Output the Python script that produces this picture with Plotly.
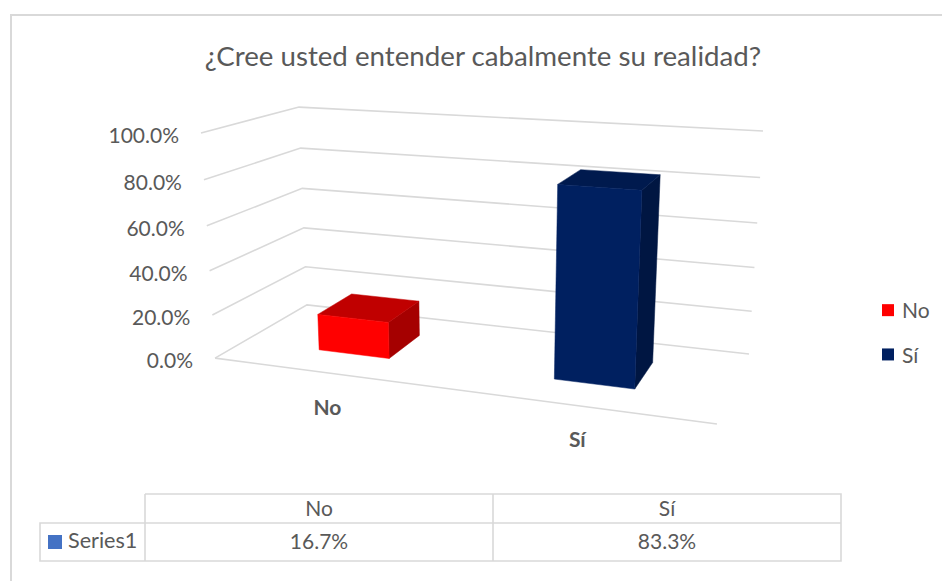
import numpy as np
import plotly.graph_objects as go

# ---- data ----
categories = ["No", "Sí"]
values = [16.7, 83.3]
series_name = "Series1"
value_labels = ["16.7%", "83.3%"]
axis_ticks = [0, 20, 40, 60, 80, 100]
axis_tick_labels = ["0.0%", "20.0%", "40.0%", "60.0%", "80.0%", "100.0%"]
title_text = "¿Cree usted entender cabalmente su realidad?"

# ---- styles ----
GRID = "#D9D9D9"
TEXT = "#595959"
FONT = "Lato"
LABEL_SIZE = 21
front_colors = ["#FF0000", "#002060"]
top_colors = ["#C00000", "#001A4E"]
side_colors = ["#A50000", "#001642"]
W, H = 942, 581
BAR_WIDTH, BAR_DEPTH = 0.156, 0.40

# ---- perspective camera: (across, depth, value share) -> picture position ----
cal_model = [(0, 0, 0), (1, 0, 0), (1, 1, 0), (0, 1, 0), (0, 0, 1), (0, 1, 1), (1, 1, 1)]
cal_image = [(215, 358), (717, 424), (749, 354), (307, 305), (201, 133), (299, 107), (763, 131)]
A, B = [], []
for (u, v, w), (px, py) in zip(cal_model, cal_image):
    A.append([u, v, w, 1, 0, 0, 0, 0, -px * u, -px * v, -px * w]); B.append(px)
    A.append([0, 0, 0, 0, u, v, w, 1, -py * u, -py * v, -py * w]); B.append(py)
P = np.append(np.linalg.lstsq(np.array(A, float), np.array(B, float), rcond=None)[0], 1).reshape(3, 4)


def project(u, v, value):
    q = P @ np.array([u, v, value / 100, 1.0])
    return q[0] / q[2], q[1] / q[2]


def poly_trace(corners, color, group):
    pts = [project(*c) for c in corners]
    pts.append(pts[0])
    return go.Scatter(x=[p[0] for p in pts], y=[p[1] for p in pts], mode="lines", fill="toself",
                      fillcolor=color, line=dict(color=color, width=0.5), hoverinfo="skip",
                      showlegend=False, legendgroup=group)


def line_trace(xs, ys, color=GRID, width=1.6):
    return go.Scatter(x=xs, y=ys, mode="lines", line=dict(color=color, width=width),
                      hoverinfo="skip", showlegend=False)


fig = go.Figure()

# chart frame (runs past the right and bottom edge of the picture)
fig.add_trace(line_trace([960, 11, 11], [15, 15, 600], width=2))

# walls and floor gridlines
for t in axis_ticks:
    pts = [project(0, 0, t), project(0, 1, t), project(1, 1, t)]
    fig.add_trace(line_trace([p[0] for p in pts], [p[1] for p in pts]))
pts = [project(0, 0, 0), project(1, 0, 0)]
fig.add_trace(line_trace([p[0] for p in pts], [p[1] for p in pts]))

# bars
for i, (cat, val) in enumerate(zip(categories, values)):
    uc = (i + 0.5) / len(categories)
    u0, u1 = uc - BAR_WIDTH / 2, uc + BAR_WIDTH / 2
    v0, v1 = 0.5 - BAR_DEPTH / 2, 0.5 + BAR_DEPTH / 2
    fig.add_trace(poly_trace([(u1, v0, 0), (u1, v1, 0), (u1, v1, val), (u1, v0, val)], side_colors[i], cat))
    fig.add_trace(poly_trace([(u0, v0, val), (u1, v0, val), (u1, v1, val), (u0, v1, val)], top_colors[i], cat))
    fig.add_trace(poly_trace([(u0, v0, 0), (u1, v0, 0), (u1, v0, val), (u0, v0, val)], front_colors[i], cat))
    # legend entry
    fig.add_trace(go.Scatter(x=[None], y=[None], mode="markers", name=cat, legendgroup=cat,
                             marker=dict(symbol="square", size=14, color=front_colors[i])))

# value axis labels
tick_pts = [project(0, 0, t) for t in axis_ticks]
fig.add_trace(go.Scatter(x=[p[0] - 22 for p in tick_pts], y=[p[1] + 4.5 for p in tick_pts],
                         mode="text", text=axis_tick_labels, textposition="middle left",
                         textfont=dict(family=FONT, size=LABEL_SIZE, color=TEXT), hoverinfo="skip", showlegend=False))

# category labels
cat_pts = [project((i + 0.5) / len(categories), 0, 0) for i in range(len(categories))]
fig.add_trace(go.Scatter(x=[p[0] for p in cat_pts], y=[p[1] + 36.5 for p in cat_pts], mode="text",
                         text=[f"<b>{c}</b>" for c in categories], textposition="middle center",
                         textfont=dict(family=FONT, size=LABEL_SIZE, color=TEXT), hoverinfo="skip", showlegend=False))

# data table
T_L, T_C0, T_C1, T_R = 40, 145, 493, 841
T_Y0, T_Y1, T_Y2 = 494, 523, 561
fig.add_trace(line_trace([T_C0, T_R, T_R, T_L, T_L, T_R], [T_Y0, T_Y0, T_Y2, T_Y2, T_Y1, T_Y1]))
fig.add_trace(line_trace([T_C0, T_C0], [T_Y0, T_Y2]))
fig.add_trace(line_trace([T_C1, T_C1], [T_Y0, T_Y2]))
col_x = [(T_C0 + T_C1) / 2, (T_C1 + T_R) / 2]
fig.add_trace(go.Scatter(x=col_x * 2, y=[(T_Y0 + T_Y1) / 2 + 2] * 2 + [(T_Y1 + T_Y2) / 2 + 1.5] * 2, mode="text",
                         text=categories + value_labels, textposition="middle center",
                         textfont=dict(family=FONT, size=LABEL_SIZE, color=TEXT), hoverinfo="skip", showlegend=False))
fig.add_trace(go.Scatter(x=[55], y=[542], mode="markers", marker=dict(symbol="square", size=14, color="#4472C4"),
                         hoverinfo="skip", showlegend=False))
fig.add_trace(go.Scatter(x=[68], y=[542.5], mode="text", text=[series_name], textposition="middle right",
                         textfont=dict(family=FONT, size=LABEL_SIZE + 0.6, color=TEXT), hoverinfo="skip", showlegend=False))

fig.update_layout(
    width=W, height=H, margin=dict(l=0, r=0, t=0, b=0, pad=0, autoexpand=False),
    paper_bgcolor="white", plot_bgcolor="white",
    title=dict(text=title_text, x=483 / W, xanchor="center", xref="paper", y=1 - 56 / H, yanchor="middle",
               yref="container", font=dict(family=FONT, size=27.7, color=TEXT)),
    xaxis=dict(range=[0, W], visible=False, fixedrange=True),
    yaxis=dict(range=[H, 0], visible=False, fixedrange=True),
    legend=dict(x=868 / W, xanchor="left", y=1 - 290 / H, yanchor="top", tracegroupgap=14, itemwidth=30,
                itemsizing="constant", bgcolor="rgba(0,0,0,0)",
                font=dict(family=FONT, size=LABEL_SIZE, color=TEXT)),
    showlegend=True,
)
post = """
document.body.style.margin = '0';
document.querySelectorAll('.legendtext').forEach(function (t) {
  t.setAttribute('x', parseFloat(t.getAttribute('x')) - 6);
});
"""
fig.write_html("out.html", post_script=post, config={"displayModeBar": False})
